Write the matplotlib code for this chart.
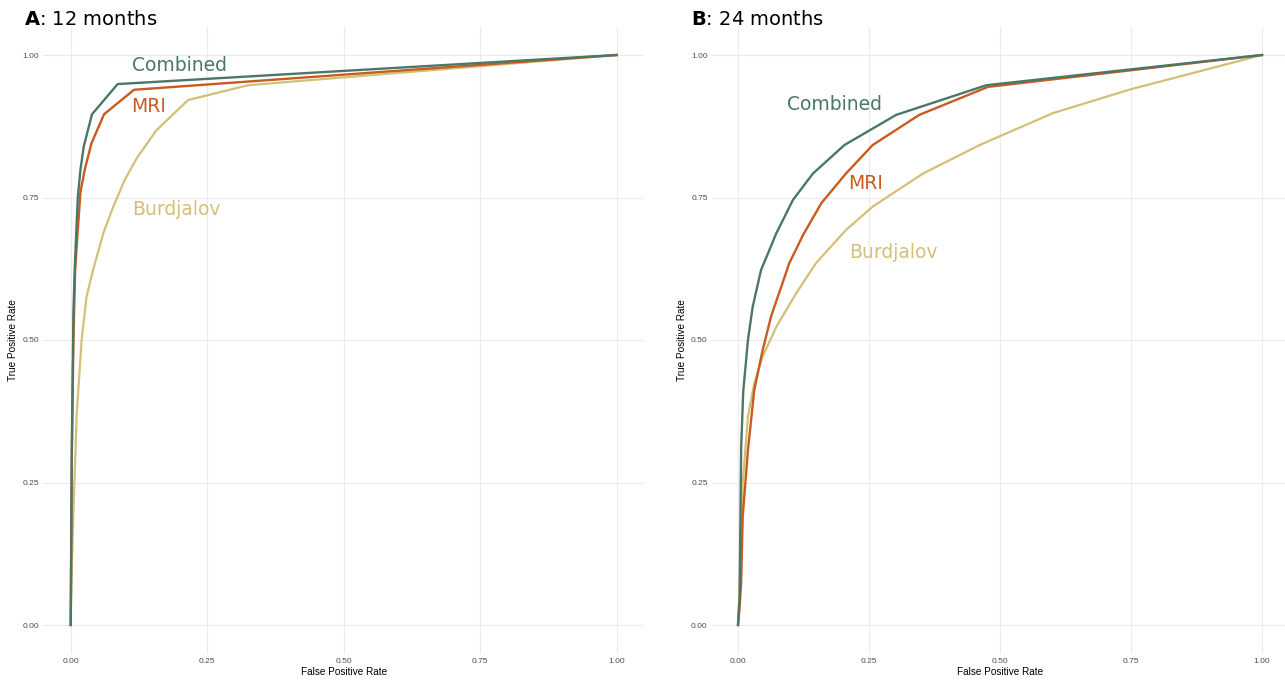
import matplotlib
matplotlib.use("Agg")
import matplotlib.pyplot as plt

# ROC curves (false positive rate, true positive rate)
# panel A: 12 months
a_comb_fpr = [0, 0.002, 0.005, 0.008, 0.013, 0.018, 0.024, 0.039, 0.086, 1.0]
a_comb_tpr = [0, 0.30, 0.55, 0.64, 0.75, 0.80, 0.84, 0.896, 0.949, 1.0]
a_mri_fpr = [0, 0.002, 0.005, 0.008, 0.012, 0.018, 0.026, 0.038, 0.061, 0.116, 1.0]
a_mri_tpr = [0, 0.30, 0.50, 0.62, 0.68, 0.76, 0.80, 0.845, 0.896, 0.939, 1.0]
a_burd_fpr = [0, 0.002, 0.005, 0.011, 0.020, 0.029, 0.041, 0.060, 0.078, 0.099,
              0.121, 0.157, 0.215, 0.325, 1.0]
a_burd_tpr = [0, 0.10, 0.20, 0.37, 0.50, 0.576, 0.623, 0.688, 0.734, 0.781,
              0.819, 0.868, 0.921, 0.947, 1.0]

# panel B: 24 months
b_comb_fpr = [0, 0.003, 0.004, 0.006, 0.010, 0.019, 0.028, 0.044, 0.060, 0.073,
              0.105, 0.143, 0.203, 0.302, 0.474, 1.0]
b_comb_tpr = [0, 0.05, 0.13, 0.31, 0.41, 0.50, 0.558, 0.623, 0.658, 0.687,
              0.746, 0.792, 0.842, 0.895, 0.947, 1.0]
b_mri_fpr = [0, 0.003, 0.006, 0.009, 0.019, 0.031, 0.047, 0.063, 0.076, 0.085,
             0.098, 0.124, 0.159, 0.206, 0.257, 0.346, 0.477, 1.0]
b_mri_tpr = [0, 0.03, 0.074, 0.19, 0.307, 0.412, 0.482, 0.541, 0.576, 0.60,
             0.635, 0.684, 0.740, 0.792, 0.842, 0.895, 0.944, 1.0]
b_burd_fpr = [0, 0.003, 0.006, 0.009, 0.019, 0.031, 0.047, 0.073, 0.111, 0.149,
              0.206, 0.257, 0.353, 0.461, 0.601, 0.75, 1.0]
b_burd_tpr = [0, 0.06, 0.15, 0.249, 0.366, 0.424, 0.471, 0.523, 0.582, 0.635,
              0.693, 0.734, 0.792, 0.842, 0.898, 0.94, 1.0]

ticks = [0, 0.25, 0.5, 0.75, 1.0]
tick_labels = ["0.00", "0.25", "0.50", "0.75", "1.00"]

col_comb = "#4b7769"
col_mri = "#c85b1f"
col_burd = "#d2c077"

fig = plt.figure(figsize=(12.85, 6.8), dpi=100)
W, H = 1285.0, 680.0

def setup(ax):
    ax.set_xlim(-0.05, 1.05)
    ax.set_ylim(-0.05, 1.05)
    ax.set_xticks(ticks)
    ax.set_yticks(ticks)
    ax.set_xticklabels(tick_labels)
    ax.set_yticklabels(tick_labels)
    ax.tick_params(length=0, labelsize=6, labelcolor="#4d4d4d", pad=3)
    for lab in ax.get_xticklabels() + ax.get_yticklabels():
        lab.set_family("Liberation Sans")
    for s in ax.spines.values():
        s.set_visible(False)
    ax.grid(True, color="#ebebeb", lw=0.8)
    ax.set_axisbelow(True)
    ax.set_xlabel("False Positive Rate", fontsize=7.2, family="Liberation Sans", labelpad=2)
    ax.set_ylabel("True Positive Rate", fontsize=7.2, family="Liberation Sans", labelpad=3)

# panel A
axA = fig.add_axes([43.4 / W, 1 - 653.5 / H, 600.6 / W, 627 / H])
setup(axA)
axA.plot(a_burd_fpr, a_burd_tpr, color=col_burd, lw=1.6)
axA.plot(a_mri_fpr, a_mri_tpr, color=col_mri, lw=1.7)
axA.plot(a_comb_fpr, a_comb_tpr, color=col_comb, lw=1.7)
axA.text(0.200, 0.982, "Combined", color=col_comb, fontsize=13.5, ha="center", va="center")
axA.text(0.143, 0.909, "MRI", color=col_mri, fontsize=13.5, ha="center", va="center")
axA.text(0.194, 0.729, "Burdjalov", color=col_burd, fontsize=13.5, ha="center", va="center")

# panel B
axB = fig.add_axes([711.8 / W, 1 - 653.5 / H, 576.4 / W, 627 / H])
setup(axB)
axB.plot(b_burd_fpr, b_burd_tpr, color=col_burd, lw=1.6)
axB.plot(b_mri_fpr, b_mri_tpr, color=col_mri, lw=1.7)
axB.plot(b_comb_fpr, b_comb_tpr, color=col_comb, lw=1.7)
axB.text(0.184, 0.914, "Combined", color=col_comb, fontsize=13.5, ha="center", va="center")
axB.text(0.243, 0.774, "MRI", color=col_mri, fontsize=13.5, ha="center", va="center")
axB.text(0.296, 0.654, "Burdjalov", color=col_burd, fontsize=13.5, ha="center", va="center")

fig.text(24 / W, 1 - 19.5 / H, r"$\mathbf{A}$: 12 months", fontsize=14, va="center", ha="left")
fig.text(691 / W, 1 - 19.5 / H, r"$\mathbf{B}$: 24 months", fontsize=14, va="center", ha="left")

fig.savefig("out.png", dpi=100, facecolor="white")
